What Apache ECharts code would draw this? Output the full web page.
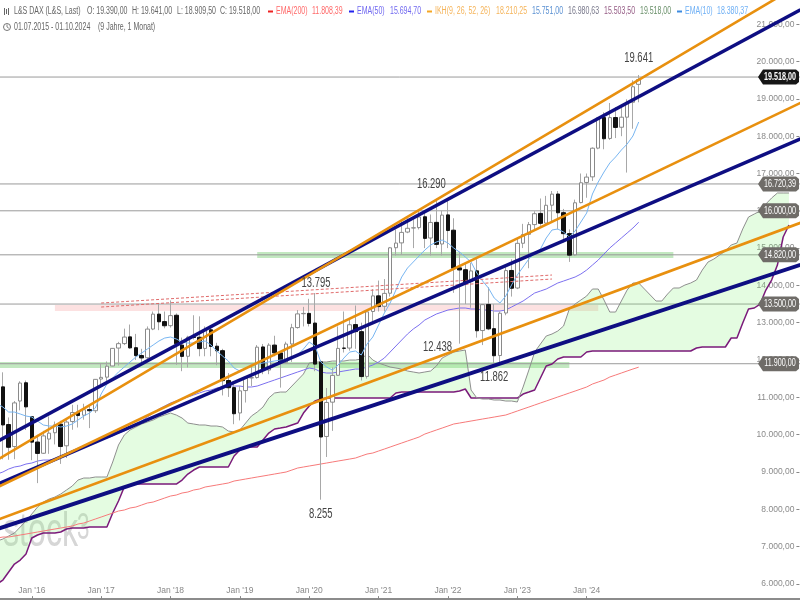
<!DOCTYPE html>
<html><head><meta charset="utf-8">
<style>html,body{margin:0;padding:0;background:#fff}#c{width:800px;height:600px}</style>
<script src="https://cdn.jsdelivr.net/npm/echarts@6/dist/echarts.min.js"></script>
</head><body><div id="c"></div>
<script>
// monthly bars, Jul 2015 - Oct 2024
const opens=[10945,11280,10270,9680,10900,11390,10480,9800,9500,9880,10050,10280,9700,10350,10600,10520,10670,10640,11490,11540,11840,12320,12440,12620,12330,12120,12060,12830,13230,13030,12920,13200,12400,12100,12620,12610,12310,12810,12370,12250,11450,11260,10580,11180,11520,11530,12350,11730,12400,12190,11940,12430,12870,13240,13250,12990,11950,9950,10870,11590,12320,12320,12950,12760,11560,13300,13720,13440,13790,15010,15140,15430,15540,15550,15840,15270,15690,15110,15890,15480,14470,14420,14100,14390,12790,13490,12840,12120,13260,14400,13930,15130,15370,15630,15930,15670,16150,16450,15950,15390,14820,16220,16760,16910,17680,18500,17940,18500,18240,18510,18910,19390];
const closes=[11308,10259,9660,10850,11382,10743,9798,9495,9965,10039,10262,9680,10337,10592,10511,10665,10640,11481,11535,11834,12312,12438,12615,12325,12118,12055,12829,13230,13024,12918,13190,12436,12097,12612,12605,12306,12806,12364,12247,11447,11257,10559,11173,11515,11526,12344,11726,12398,12189,11939,12428,12866,13236,13249,12981,11890,9936,10862,11587,12311,12313,12945,12761,11556,13291,13719,13432,13786,15008,15135,15421,15531,15544,15835,15260,15688,15100,15885,15471,14461,14414,14097,14388,12784,13484,12835,12114,13254,14397,13924,15128,15365,15629,15922,15664,16148,16447,15947,15387,14810,16215,16752,16904,17678,18492,17932,18498,18235,18509,18907,19325,19518];
const lows=[10650,9338,9325,9340,10650,10123,9314,8699,9480,9484,9737,9214,9372,10130,10190,10400,10174,10580,11350,11370,11830,11850,12400,12300,12000,11870,11990,12800,12800,12850,12870,11870,11700,11800,12550,12100,12100,12100,11860,11050,11010,10279,10380,10860,11300,11500,11620,11620,12100,11260,11900,11950,12840,12900,12900,11700,8255,9400,10100,11580,12200,12250,12300,11450,11500,13000,13300,13300,13700,14800,14820,15400,15000,15500,15000,14800,15000,14800,15000,13800,12438,13500,13400,12600,12400,12800,11862,11900,13200,13700,13900,15000,14460,15500,15600,15650,15700,15500,15150,14630,14800,16200,16350,16800,17650,17650,17900,17950,18000,17025,18200,18909.5];
const highs=[11800,11670,10460,10900,11430,11450,10500,9995,10100,10486,10350,10370,10400,10800,10800,10827,10800,11481,11893,11960,12313,12486,12841,12951,12700,12300,12900,13300,13526,13300,13597,13250,12600,12650,13200,13170,12900,12880,12460,12300,11650,11400,11300,11560,11820,12400,12430,12450,12650,12200,12490,12970,13340,13425,13640,13795,12000,11250,11800,12900,13300,13100,13460,13000,13300,13900,14130,14170,15030,15500,15730,15800,15800,16030,15990,15900,16290,16000,16285,15800,14900,14600,14600,14700,13500,13950,13500,13300,14500,14700,15250,15650,15700,15990,16330,16400,16530,16530,16050,15500,16300,17000,17000,17700,18500,18640,18890,18780,18780,18990,19500,19641];
const ema10=[10831,10739,10605,10605,10552,10498,10471,10364,10257,10230,10230,10203,10230,10284,10391,10498,10578,10713,11088,11356,11517,11678,11812,11946,12080,12187,12294,12402,12509,12589,12616,12563,12482,12455,12455,12482,12509,12402,12241,12107,11973,11785,11705,11785,11839,11892,11919,11946,11973,11999,11999,12053,12134,12294,12482,12375,11946,11812,11731,11865,12053,12214,12241,12134,12428,12616,12938,13259,13528,13876,14225,14466,14627,14788,14948,15083,15163,15217,15136,15002,14895,14761,14627,14332,14117,13930,13662,13528,13715,14010,14278,14493,14707,14868,14975,15270,15485,15512,15431,15297,15458,15699,15940,16450,16772,17040,17281,17442,17629,17790,18005,18380];
const ema50=[8943,8997,9077,9131,9158,9211,9238,9292,9318,9318,9345,9399,9452,9533,9613,9667,9721,9801,9855,9908,9962,10042,10096,10176,10257,10364,10471,10578,10686,10766,10847,10900,10954,11008,11061,11115,11168,11195,11249,11276,11302,11302,11302,11276,11276,11302,11356,11410,11463,11517,11571,11624,11678,11731,11785,11758,11678,11651,11651,11678,11705,11731,11758,11758,11812,11865,11946,12053,12214,12375,12536,12696,12831,12938,13072,13152,13233,13286,13340,13367,13394,13394,13367,13367,13340,13340,13313,13313,13340,13420,13501,13581,13688,13796,13849,13903,13983,14064,14117,14171,14225,14305,14412,14546,14680,14841,15002,15136,15270,15404,15538,15694];
const ema200=[7227,7254,7254,7281,7308,7334,7361,7388,7415,7442,7469,7495,7522,7549,7603,7629,7683,7737,7790,7844,7897,7951,7978,8032,8058,8112,8166,8192,8246,8300,8353,8380,8434,8460,8514,8541,8595,8621,8648,8675,8702,8755,8782,8809,8836,8863,8889,8916,8943,8970,8997,9050,9104,9131,9158,9184,9211,9238,9265,9292,9318,9345,9372,9426,9479,9506,9560,9613,9667,9721,9774,9828,9881,9935,10015,10069,10123,10176,10230,10284,10310,10337,10364,10391,10418,10444,10471,10498,10525,10578,10632,10686,10739,10793,10847,10900,10954,11008,11061,11115,11168,11222,11276,11356,11410,11463,11544,11597,11651,11705,11758,11808];
const spanA=[7147,7200,7281,7361,7522,7683,7871,8058,8192,8273,8326,8407,8514,8621,8782,8836,8836,8863,8863,8863,9265,9721,9989,10123,10203,10284,10337,10391,10471,10525,10578,10525,10444,10310,10284,10257,10257,10230,10230,10203,10096,10069,10123,10310,10498,10605,10739,10981,11115,11141,11141,11302,11463,11624,11919,11946,11946,11946,11972,11972,11972,11999,11999,12026,12160,11999,11919,11865,11812,11785,11758,11705,11678,11651,11678,11705,11839,12053,12134,12214,12241,12268,11195,10981,10954,10954,10927,10927,10900,10900,10874,11275,11731,12214,12428,12643,12697,12777,12911,13367,13501,13608,13715,13903,13903,13608,13286,13286,13581,13876,14064,14064,13903,13742,13581,13581,13769,13930,13930,14010,14064,14144,14412,14627,14707,14814,14922,15083,15136,15512,15833,15914,15994,16182,16343,16477,16477,16477];
const spanB=[5995,6101,6316,6530,6637,6798,7227,7308,7361,7361,7361,7388,7469,7495,7495,7495,7522,7522,7522,7522,7897,8219,8595,8648,8675,8675,8675,8675,8675,8675,8675,8675,8782,8943,9050,9131,9131,9131,9131,9131,9131,9426,9586,9667,9667,9667,9855,10042,10150,10176,10203,10257,10310,10578,10766,10900,10954,10981,10981,10981,10981,10981,10981,10981,10981,10981,10981,10981,10981,11115,11141,11141,11141,11141,11141,11141,11141,11141,11141,11141,11168,11222,10981,10981,10981,10981,10981,10981,10981,10981,10981,11088,11141,11195,11517,11839,11892,12026,12080,12080,12080,12080,12214,12241,12241,12241,12241,12241,12241,12241,12241,12241,12241,12241,12241,12241,12241,12241,12241,12241,12241,12321,12348,12348,12348,12348,12348,12589,12589,12991,13367,13394,13501,13876,14144,14546,15297,15619];
// trend lines: value at first and last month of the axis
const orangeTop=[9318,22080], navyTop=[9812,21391];
const orangeMid=[8584,18895], navyMid=[8667,17930];
const orangeLow=[7710,15678], navyLow=[7469,14552];
const dashedUpper=[13527,14278], dashedLower=[13420,14171];
const dashedMonths=[18,96];
// horizontal levels and right-hand tags
const levelValues=[19586,16720,16000,14820,13500,11900];
const tagTexts=['19.518,00','16.720,39','16.000,00','14.820,00','13.500,00','11.900,00'];
// zones [first month, last month, low, high]
const greenZoneA=[45,117,14734,14895], greenZoneB=[0,99,11785,11946], pinkZone=[10,104,13313,13474];
// peak / trough notes
const noteMonths=[111,76,55,80,86,56];
const noteValues=[19641,16290,13795,12438,11862,8255];
const noteTexts=['19.641','16.290','13.795','12.438','11.862','8.255'];
const noteShift=[[0,-17],[-5,-16],[1,-10],[-22,3],[0,12],[0,14]];

const monthNames=['Jan','Feb','Mar','Apr','May','Jun','Jul','Aug','Sep','Oct','Nov','Dec'];
const categories=[];
for(let i=0;i<140;i++){const m=(6+i)%12,y=2015+Math.floor((6+i)/12);categories.push(monthNames[m]+" '"+String(y).slice(2));}
const N=categories.length;
const FONT='"Liberation Sans",Arial,sans-serif';
const lastBar=closes.length-1;
const isJan=(i,v)=>i<=lastBar&&v.indexOf('Jan')===0;
const deNum=v=>v.toLocaleString('de-DE',{minimumFractionDigits:2,maximumFractionDigits:2});
const span=(a,from=0,to=N-1)=>{const d=new Array(N).fill(null);d[from]=a[0];d[to]=a[1];return d;};
const trend=(a,color,width,z)=>({type:'line',data:span(a),connectNulls:true,showSymbol:false,symbol:'none',silent:true,z:z||8,lineStyle:{color,width}});
const levelSeries=levelValues.map(v=>({type:'line',data:span([v,v]),connectNulls:true,symbol:'none',silent:true,z:1,lineStyle:{color:'#9a9a9a',width:1}}));
const zone=(a,color)=>[{xAxis:a[0],yAxis:a[2],itemStyle:{color}},{xAxis:a[1],yAxis:a[3]}];
const thin=(data,color,z)=>({type:'line',data,symbol:'none',silent:true,z:z||4,lineStyle:{color,width:1}});
const NAVY='#0e0e82';

const series=[
 {type:'line',data:[],silent:true,z:1,markArea:{silent:true,data:[zone(pinkZone,'rgba(245,170,170,0.35)'),zone(greenZoneA,'rgba(120,205,115,0.45)'),zone(greenZoneB,'rgba(120,205,115,0.45)')]}},
 ...levelSeries,
 {type:'line',data:spanB,stack:'cloud',stackStrategy:'all',symbol:'none',silent:true,z:2,lineStyle:{color:'#7a1a7a',width:1.5}},
 {type:'line',data:spanA.map((v,i)=>v-spanB[i]),stack:'cloud',stackStrategy:'all',symbol:'none',silent:true,z:2,lineStyle:{color:'#8f8f8f',width:1},areaStyle:{color:'rgba(130,240,120,0.22)',opacity:1}},
 thin(ema200,'#f77a7a'),thin(ema50,'#7c70f0'),
 // wicks
 {type:'candlestick',data:opens.map((o,i)=>[o,o,lows[i],highs[i]]),barWidth:1,silent:true,z:5,
  itemStyle:{color:'#a8a8a8',color0:'#a8a8a8',borderColor:'#a8a8a8',borderColor0:'#a8a8a8',borderWidth:1}},
 // bodies
 {type:'candlestick',data:opens.map((o,i)=>[o,closes[i],Math.min(o,closes[i]),Math.max(o,closes[i])]),barWidth:4,barGap:'-100%',silent:true,z:5,
  itemStyle:{color:'#ffffff',color0:'#111111',borderColor:'#8a8a8a',borderColor0:'#111111',borderWidth:1}},
 thin(ema10,'#78b6f2',6),
 {type:'line',data:span(dashedUpper,dashedMonths[0],dashedMonths[1]),connectNulls:true,symbol:'none',silent:true,z:7,lineStyle:{color:'#e06a6a',width:1,type:[3,2]}},
 {type:'line',data:span(dashedLower,dashedMonths[0],dashedMonths[1]),connectNulls:true,symbol:'none',silent:true,z:7,lineStyle:{color:'#e06a6a',width:1,type:[3,2]}},
 trend(navyLow,NAVY,4),trend(navyMid,NAVY,3.5),trend(navyTop,NAVY,3.5),
 trend(orangeLow,'#e8900f',2.6,9),trend(orangeMid,'#e8900f',2.6,9),trend(orangeTop,'#e8900f',2.6,9),
 {type:'custom',coordinateSystem:'cartesian2d',silent:true,z:11,clip:false,
  data:noteMonths.map((m,i)=>[m,noteValues[i],i]),
  renderItem(p,api){const c=api.coord([api.value(0),api.value(1)]),k=api.value(2);
   return {type:'text',x:c[0]+noteShift[k][0],y:c[1]+noteShift[k][1],scaleX:0.63,
    style:{text:noteTexts[k],x:0,y:0,fill:'#444',font:'15px '+FONT,textAlign:'center',textVerticalAlign:'middle'}};}},
 {type:'custom',coordinateSystem:'cartesian2d',silent:true,z:12,clip:false,
  data:levelValues.map((v,i)=>[0,v,i]),
  renderItem(p,api){const cy=api.coord([0,api.value(1)])[1],k=api.value(2),first=k===0;
   return {type:'group',children:[
    {type:'polygon',shape:{points:[[758,cy],[763,cy-7.5],[796,cy-7.5],[799,cy-5],[799,cy+5],[796,cy+7.5],[763,cy+7.5]]},style:{fill:first?'#161616':'#6f6c68'}},
    {type:'text',x:780,y:cy,scaleX:0.72,style:{text:tagTexts[k],x:0,y:0,fill:'#fff',font:(first?'bold ':'')+'10px '+FONT,textAlign:'center',textVerticalAlign:'middle'}}
   ]};}}
];

const hdrY=11.5,hdr2Y=27;
const headerParts=[
 [14,'L&S DAX (L&S, Last)','#666'],[87,'O: 19.390,00','#666'],[132,'H: 19.641,00','#666'],[177,'L: 18.909,50','#666'],[220,'C: 19.518,00','#666'],
 [276,'EMA(200)','#ff6a6a'],[312,'11.808,39','#ff6a6a'],[357,'EMA(50)','#7068f0'],[390,'15.694,70','#7068f0'],
 [435,'IKH(9, 26, 52, 26)','#f5b45a'],[496,'18.210,25','#f5b45a'],[532,'15.751,00','#5a90d2'],[568,'16.980,63','#77778a'],[604,'15.503,50','#955c85'],[640,'19.518,00','#6a906a'],
 [685,'EMA(10)','#6fb0f5'],[717,'18.380,37','#6fb0f5']];
const dashMarks=[[268,'#ee2222'],[349,'#2222ee'],[427,'#f5a623'],[677,'#3d8be0']];
const txt=(x,y,text,fill,size,sx,extra)=>({type:'text',x,y,scaleX:sx,silent:true,z:extra&&extra.z!==undefined?extra.z:50,
  style:Object.assign({text,x:0,y:0,fill,font:size+'px '+FONT,textVerticalAlign:'middle'},extra&&extra.style)});
const elements=[
 txt(3,533,'stock','#d6d6d6',48,0.67,{z:0}),
 txt(77,529,'3','#d6d6d6',36,0.62,{z:0}),
 ...headerParts.map(p=>txt(p[0],hdrY,p[1],p[2],10,0.7)),
 ...dashMarks.map(d=>({type:'rect',z:50,silent:true,shape:{x:d[0],y:hdrY-1,width:5,height:2},style:{fill:d[1]}})),
 {type:'rect',z:50,silent:true,shape:{x:4,y:8,width:1,height:7},style:{fill:'#666'}},
 {type:'rect',z:50,silent:true,shape:{x:6,y:9,width:1,height:5},style:{fill:'#666'}},
 {type:'rect',z:50,silent:true,shape:{x:8,y:8,width:1,height:7},style:{fill:'#666'}},
 {type:'circle',z:50,silent:true,shape:{cx:7,cy:hdr2Y,r:3.5},style:{fill:'none',stroke:'#666',lineWidth:0.9}},
 {type:'polyline',z:50,silent:true,shape:{points:[[7,hdr2Y-2.5],[7,hdr2Y],[8.8,hdr2Y+1.2]]},style:{fill:'none',stroke:'#666',lineWidth:0.8}},
 txt(14,hdr2Y,'01.07.2015 - 01.10.2024','#666',10,0.7),
 txt(98,hdr2Y,'(9 Jahre, 1 Monat)','#666',10,0.7)
];

const chart=echarts.init(document.getElementById('c'),null,{renderer:'canvas'});
chart.setOption({
 animation:false,backgroundColor:'#fff',
 grid:{left:-5.78,top:-13,width:809.2,height:634.1,containLabel:false,outerBoundsMode:'none'},
 xAxis:{type:'category',data:categories,position:'bottom',offset:-22,boundaryGap:true,
  axisLine:{show:true,onZero:false,lineStyle:{color:'#666',width:1.5}},
  axisTick:{show:true,inside:true,length:3,alignWithLabel:true,interval:isJan,lineStyle:{color:'#888'}},
  axisLabel:{show:true,inside:true,margin:4,interval:isJan,color:'#888',fontFamily:FONT,fontSize:8.5,hideOverlap:false},
  splitLine:{show:false}},
 yAxis:{type:'value',min:5000,max:22000,interval:1000,position:'right',offset:-4,
  axisLine:{show:false},
  axisTick:{show:true,inside:true,length:3,lineStyle:{color:'#888'}},
  axisLabel:{show:true,inside:true,margin:5,color:'#8a8a8a',fontFamily:FONT,fontSize:8.5,
   showMinLabel:false,showMaxLabel:false,formatter:deNum},
  splitLine:{show:false}},
 graphic:{elements},
 series
});
</script></body></html>
